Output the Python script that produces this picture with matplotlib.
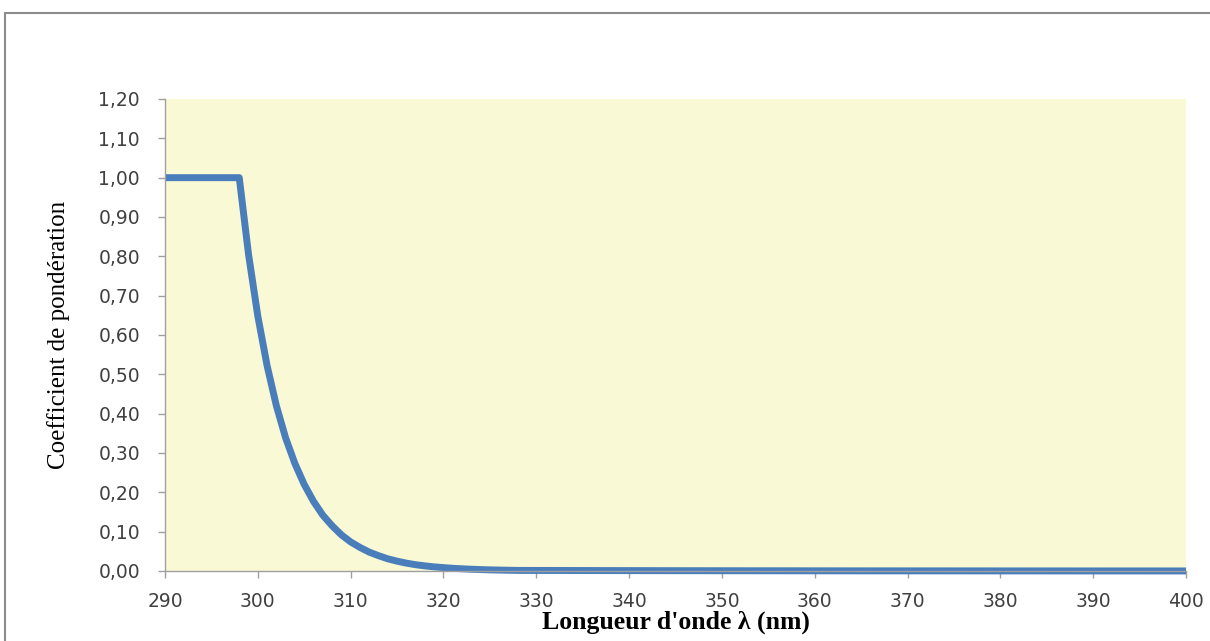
import matplotlib
matplotlib.use("Agg")
import matplotlib.pyplot as plt
from matplotlib.lines import Line2D
from matplotlib.ticker import FuncFormatter, MultipleLocator

wavelength = [290, 291, 292, 293, 294, 295, 296, 297, 298, 299, 300, 301, 302, 303,
              304, 305, 306, 307, 308, 309, 310, 311, 312, 313, 314, 315, 316, 317,
              318, 319, 320, 321, 322, 323, 324, 325, 326, 327, 328, 330, 335, 340,
              345, 350, 355, 360, 365, 370, 375, 380, 385, 390, 395, 400]
coefficient = [1.00, 1.00, 1.00, 1.00, 1.00, 1.00, 1.00, 1.00, 1.00, 0.805, 0.648,
               0.522, 0.420, 0.338, 0.273, 0.220, 0.177, 0.142, 0.115, 0.092, 0.074,
               0.060, 0.048, 0.039, 0.031, 0.025, 0.020, 0.016, 0.013, 0.0105, 0.0086,
               0.0069, 0.0056, 0.0045, 0.0036, 0.0029, 0.0024, 0.0019, 0.0015, 0.0014,
               0.0012, 0.0010, 0.0008, 0.0007, 0.0006, 0.0005, 0.0004, 0.00035, 0.0003,
               0.00025, 0.0002, 0.00018, 0.00015, 0.00013]

x_ticks = [290, 300, 310, 320, 330, 340, 350, 360, 370, 380, 390, 400]

fig = plt.figure(figsize=(12.1, 6.41), dpi=100)
fig.patch.set_facecolor("white")

# outer frame (top and left edges visible)
fig.add_artist(Line2D([5/1210, 5/1210], [0, 1 - 13/641], transform=fig.transFigure,
                      color="#8c8c8c", lw=1.5))
fig.add_artist(Line2D([5/1210, 1], [1 - 13/641, 1 - 13/641], transform=fig.transFigure,
                      color="#8c8c8c", lw=1.5))

ax = fig.add_axes([165/1210, 1 - 571/641, (1186 - 165)/1210, (571 - 99)/641])
ax.set_facecolor("#f9f9d6")
ax.plot(wavelength, coefficient, color="#4a7ebb", lw=5, solid_capstyle="butt",
        solid_joinstyle="round", clip_on=False)

ax.set_xlim(290, 400)
ax.set_ylim(0, 1.2)
ax.set_xticks(x_ticks)
ax.yaxis.set_major_locator(MultipleLocator(0.1))
ax.yaxis.set_major_formatter(FuncFormatter(lambda v, p: f"{v:.2f}".replace(".", ",")))

for s in ["top", "right"]:
    ax.spines[s].set_visible(False)
for s in ["left", "bottom"]:
    ax.spines[s].set_color("#a0a0a0")
    ax.spines[s].set_linewidth(1.0)

ax.tick_params(axis="both", direction="out", length=5, width=1, color="#a0a0a0",
               labelsize=13.5, labelcolor="#404040")
ax.tick_params(axis="y", pad=13)
ax.tick_params(axis="x", pad=10)

ax.set_xlabel("Longueur d'onde λ (nm)", family=["Liberation Serif", "DejaVu Serif"],
              fontweight="bold", fontsize=18.5, labelpad=0)
ax.set_ylabel("Coefficient de pondération", family=["Liberation Serif", "DejaVu Serif"],
              fontweight="normal", fontsize=18, labelpad=20)

fig.savefig("out.png", dpi=100)
